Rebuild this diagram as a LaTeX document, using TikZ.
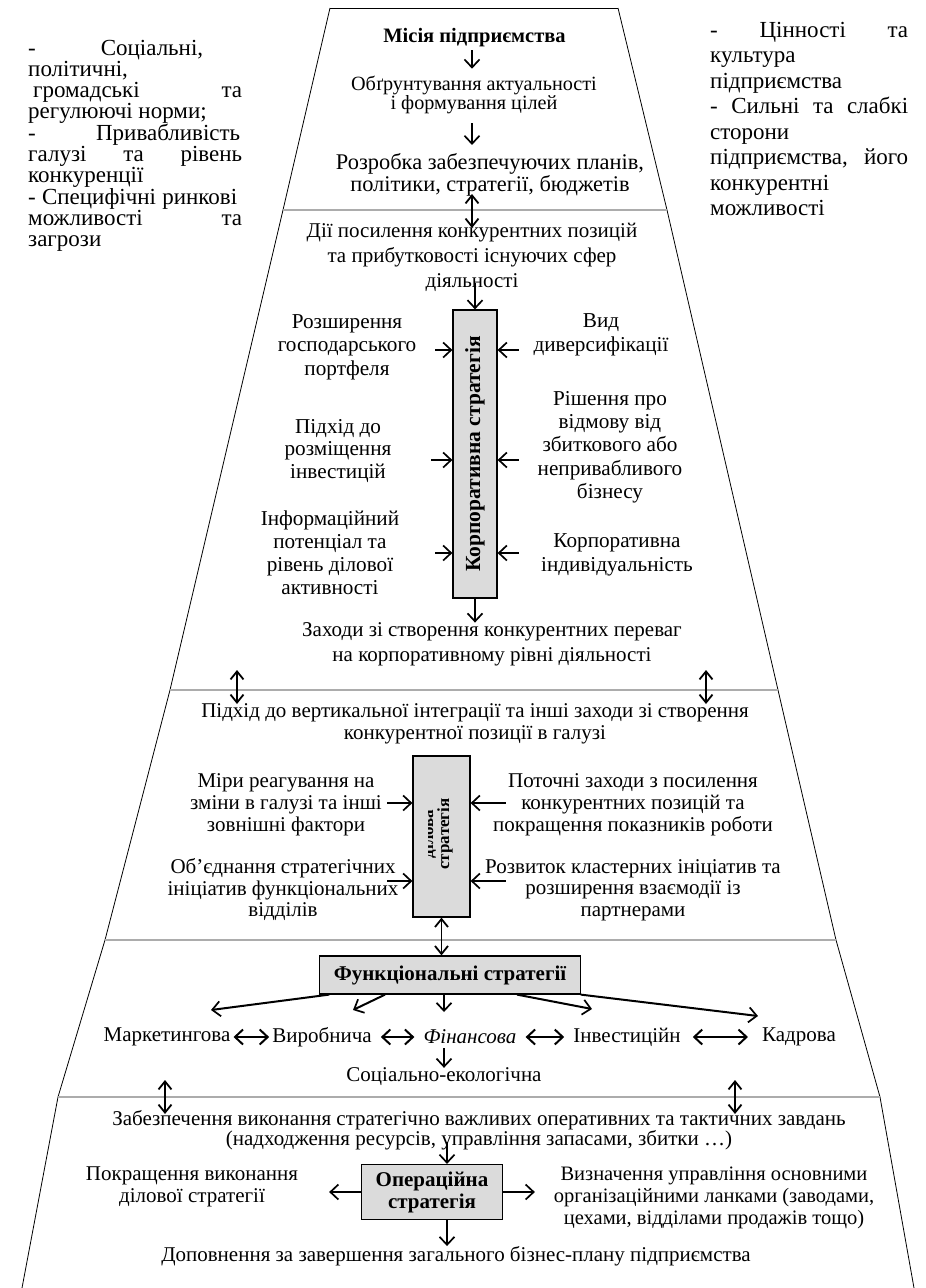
\documentclass[tikz,border=0pt]{standalone}
\usepackage{fontspec}
\setmainfont{Liberation Serif}
\usetikzlibrary{arrows.meta}
\newcommand{\fsz}[2]{\fontsize{#1}{#2}\selectfont}
\begin{document}
\begin{tikzpicture}[x=1pt,y=-1pt,
  txt/.style={inner sep=0pt, align=center},
  arr/.style={-{Straight Barb[length=8pt,width=15pt,line width=1.7pt]}, line width=1.6pt},
  dbl/.style={{Straight Barb[length=8pt,width=13pt,line width=1.8pt]}-{Straight Barb[length=8pt,width=13pt,line width=1.8pt]}, line width=1.8pt},
  hdbl/.style={{Straight Barb[length=8pt,width=15pt,line width=2pt]}-{Straight Barb[length=8pt,width=15pt,line width=2pt]}, line width=2pt},
  gbox/.style={draw, line width=1.2pt, fill=gray!28},
  sideline/.style={line width=0.8pt},
  bline/.style={draw=gray!65, line width=2.4pt}
]
\fill[white] (0,0) rectangle (926,1288);
\useasboundingbox (0,0) rectangle (926,1288);

% trapezoid sides
\draw[sideline] (330,8) -- (618,8);
\draw[sideline] (330,8) -- (283,210) -- (170,690) -- (105,940) -- (58,1097) -- (22,1288);
\draw[sideline] (618,8) -- (667,210) -- (778,690) -- (836,940) -- (880,1097) -- (914,1288);
\draw[bline] (283,210) -- (667,210);
\draw[bline] (170,690) -- (778,690);
\draw[bline] (105,940) -- (836,940);
\draw[bline] (58,1097) -- (880,1097);

% side columns
\node[anchor=north west, inner sep=0pt, align=left, font=\fsz{23}{20.9}] (lcol) at (28,40)
 {\makebox[175pt][s]{- Соціальні,}\\ політичні,\\ \hspace*{5pt}\makebox[209pt][s]{громадські та}\\ регулюючі норми;\\ \makebox[212pt][s]{- Привабливість}\\ \makebox[214pt][s]{галузі та рівень}\\ конкуренції\\ \makebox[209pt][s]{- Специфічні ринкові}\\ \makebox[214pt][s]{можливості та}\\ загрози};
\node[anchor=north west, inner sep=0pt, align=left, font=\fsz{23}{25.5}] (rcol) at (710,22)
 {\makebox[198pt][s]{- Цінності та}\\ культура\\ підприємства\\ \makebox[198pt][s]{- Сильні та слабкі}\\ сторони\\ \makebox[198pt][s]{підприємства, його}\\ конкурентні\\ можливості};

% section 1
\node[txt, font=\bfseries\fsz{20.5}{24}] (mis) at (474.5,38) {Місія підприємства};
\node[txt, font=\fsz{20.2}{16}] (obg) at (474,95) {Обґрунтування актуальності\\і формування цілей};
\node[txt, font=\fsz{22.4}{15.5}] (roz) at (490,174.5) {Розробка забезпечуючих планів,\\політики, стратегії, бюджетів};
\draw[arr, shorten <=3pt, shorten >=7pt] ([xshift=-2.5pt]mis.south) -- ([xshift=-2.5pt]mis.south |- obg.north);
\draw[arr, shorten <=9pt, shorten >=8pt] ([xshift=-2pt]obg.south) -- ([xshift=-2pt]obg.south |- roz.north);
\coordinate (b1a) at (472,194);
\coordinate (b1b) at (472,228);
\draw[dbl] (b1a) -- (b1b);

% section 2
\node[txt, font=\fsz{21}{25}] (dii) at (472,257) {Дії посилення конкурентних позицій\\та прибутковості існуючих сфер\\діяльності};
\node[gbox, minimum width=44pt, minimum height=288pt, inner sep=0pt] (corp) at (475,454) {};
\node[rotate=90, inner sep=0pt, font=\bfseries\fsz{21.5}{24}] (corpt) at (corp.center) {Корпоративна стратегія};
\draw[arr, shorten <=-8pt] (corp.north |- dii.south) -- (corp.north);

\node[txt, font=\fsz{21.2}{23.5}] (l1) at (347,347) {Розширення\\господарського\\портфеля};
\node[txt, font=\fsz{21.2}{22.5}] (l2) at (338,451) {Підхід до\\розміщення\\інвестицій};
\node[txt, font=\fsz{21.2}{23}] (l3) at (330,553) {Інформаційний\\потенціал та\\рівень ділової\\активності};
\node[txt, font=\fsz{21.2}{24}] (r1) at (601,335) {Вид\\диверсифікації};
\node[txt, font=\fsz{21.2}{23.3}] (r2) at (610,447) {Рішення про\\відмову від\\збиткового або\\непривабливого\\бізнесу};
\node[txt, font=\fsz{21.2}{24}] (r3) at (617,555) {Корпоративна\\індивідуальність};
\coordinate (ya) at (0,350);
\coordinate (yb) at (0,460);
\coordinate (yc) at (0,553);
\draw[arr] ([xshift=-17pt]corp.west |- ya) -- (corp.west |- ya);
\draw[arr] ([xshift=-21pt]corp.west |- yb) -- (corp.west |- yb);
\draw[arr] ([xshift=-17pt]corp.west |- yc) -- (corp.west |- yc);
\draw[arr] ([xshift=21pt]corp.east |- ya) -- (corp.east |- ya);
\draw[arr] ([xshift=21pt]corp.east |- yb) -- (corp.east |- yb);
\draw[arr] ([xshift=21pt]corp.east |- yc) -- (corp.east |- yc);

\node[txt, font=\fsz{21}{25}] (zah) at (492,644.5) {Заходи зі створення конкурентних переваг\\на корпоративному рівні діяльності};
\draw[arr] (corp.south) -- (corp.south |- zah.north);

\coordinate (b2a) at (237,670);
\coordinate (b2b) at (237,704);
\coordinate (b2c) at (706,670);
\coordinate (b2d) at (706,704);
\draw[dbl] (b2a) -- (b2b);
\draw[dbl] (b2c) -- (b2d);

% section 3
\node[txt, font=\fsz{21}{22}] (pid) at (475,724) {Підхід до вертикальної інтеграції та інші заходи зі створення\\конкурентної позиції в галузі};
\node[gbox, minimum width=57pt, minimum height=161pt, inner sep=0pt] (dil) at (441.5,836.5) {};
\begin{scope}
\clip (428,760) rectangle (468,914);
\node[rotate=90, inner sep=0pt, align=center, font=\bfseries\fsz{17}{16}] (dilt) at (437,834) {ділова\\стратегія};
\end{scope}
\node[txt, font=\fsz{21}{22}] (ml) at (286,805) {Міри реагування на\\зміни в галузі та інші\\зовнішні фактори};
\node[txt, font=\fsz{21}{21.5}] (ol) at (283,890) {Об’єднання стратегічних\\ініціатив функціональних\\відділів};
\node[txt, font=\fsz{21}{22}] (pr) at (633,805) {Поточні заходи з посилення\\конкурентних позицій та\\покращення показників роботи};
\node[txt, font=\fsz{21}{21.5}] (rr) at (633,890) {Розвиток кластерних ініціатив та\\розширення взаємодії із\\партнерами};
\coordinate (yd) at (0,803);
\coordinate (ye) at (0,881);
\draw[arr] ([xshift=-25pt]dil.west |- yd) -- (dil.west |- yd);
\draw[arr] ([xshift=-25pt]dil.west |- ye) -- (dil.west |- ye);
\draw[arr] ([xshift=35pt]dil.east |- yd) -- (dil.east |- yd);
\draw[arr] ([xshift=35pt]dil.east |- ye) -- (dil.east |- ye);

% section 4
\node[gbox, font=\bfseries\fsz{21}{24}, inner xsep=14pt, minimum height=38pt] (fun) at (450,975) {Функціональні стратегії};
\draw[dbl] (dil.south) -- (dil.south |- fun.north);

\node[txt, font=\fsz{21}{24}] (mk) at (167,1037) {Маркетингова};
\node[txt, font=\fsz{21}{24}] (vy) at (322,1037) {Виробнича};
\node[txt, font=\itshape\fsz{21}{24}] (fi) at (470,1037) {Фінансова};
\node[txt, font=\fsz{21}{24}] (inv) at (627,1037) {Інвестиційн};
\node[txt, font=\fsz{21}{24}] (ka) at (799,1037) {Кадрова};
\draw[hdbl, shorten <=3pt, shorten >=3pt] (mk.east) -- (vy.west);
\draw[hdbl, shorten <=9pt, shorten >=9pt] (vy.east) -- (fi.west);
\draw[hdbl, shorten <=9pt, shorten >=9pt] (fi.east) -- (inv.west);
\draw[hdbl, shorten <=12pt, shorten >=14pt] (inv.east) -- (ka.west);

\coordinate (fa1) at (211,1010);
\coordinate (fa2) at (353,1010);
\coordinate (fa3) at (444,1012);
\coordinate (fa4) at (592,1009);
\coordinate (fa5) at (758,1016);
\draw[arr, line width=2pt] ([xshift=10pt]fun.south west) -- (fa1);
\draw[arr, line width=2pt] ([xshift=-65pt]fun.south) -- (fa2);
\draw[arr] (fun.south -| fa3) -- (fa3);
\draw[arr, line width=2pt] ([xshift=67pt]fun.south) -- (fa4);
\draw[arr, line width=2pt] (fun.south east) -- (fa5);

\node[txt, font=\fsz{21}{24}] (sc) at (444,1077) {Соціально-екологічна};
\draw[arr, shorten <=4pt] (fi.south -| fa3) -- (sc.north -| fa3);

\coordinate (b4a) at (165,1080);
\coordinate (b4b) at (165,1114);
\coordinate (b4c) at (735,1080);
\coordinate (b4d) at (735,1114);
\draw[dbl] (b4a) -- (b4b);
\draw[dbl] (b4c) -- (b4d);

% section 5
\node[txt, font=\fsz{21}{19.5}] (zab) at (479,1130) {Забезпечення виконання стратегічно важливих оперативних та тактичних завдань\\(надходження ресурсів, управління запасами, збитки …)};
\node[gbox, align=center, font=\bfseries\fsz{21}{22}, inner xsep=14pt, inner ysep=5pt, minimum height=55pt] (op) at (432,1192) {Операційна\\стратегія};
\coordinate (ox) at (447,0);
\draw[arr, shorten <=-8pt] (zab.south -| ox) -- (op.north -| ox);
\node[txt, font=\fsz{21}{22}] (pok) at (192,1187) {Покращення виконання\\ділової стратегії};
\node[txt, font=\fsz{20.5}{22}] (viz) at (714,1198) {Визначення управління основними\\організаційними ланками (заводами,\\цехами, відділами продажів тощо)};
\draw[arr] (op.west) -- ([xshift=-32pt]op.west);
\draw[arr] (op.east) -- ([xshift=32pt]op.east);
\node[txt, font=\fsz{21}{24}] (dop) at (456,1256) {Доповнення за завершення загального бізнес-плану підприємства};
\draw[arr] (op.south -| ox) -- (dop.north -| ox);
\end{tikzpicture}
\end{document}
